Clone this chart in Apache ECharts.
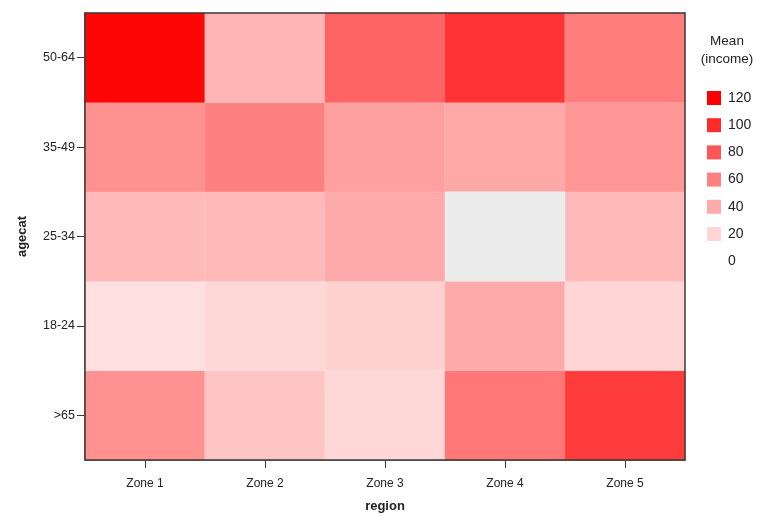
<!DOCTYPE html>
<html>
<head>
<meta charset="utf-8">
<script src="https://cdn.jsdelivr.net/npm/echarts@6/dist/echarts.min.js"></script>
<style>
  html,body{margin:0;padding:0;background:#fff;}
  #main{width:770px;height:516px;}
</style>
</head>
<body>
<div id="main"></div>
<script>
// 数据
var regions = ['Zone 1', 'Zone 2', 'Zone 3', 'Zone 4', 'Zone 5'];
var agecats = ['>65', '18-24', '25-34', '35-49', '50-64'];
// mean income per agecat row (same order as agecats), one value per region
var row65   = [52, 28, 19, 64, 92];
var row1824 = [15, 19, 21, 40, 20];
var row2534 = [33, 33, 40, null, 33];
var row3549 = [52, 60, 45, 41, 49];
var row5064 = [117, 35, 73, 96, 61];
var legendVals = [120, 100, 80, 60, 40, 20, 0];

var rows = [row65, row1824, row2534, row3549, row5064];
var cells = [], empty = [];
rows.forEach(function(r, yi){
  r.forEach(function(v, xi){
    if (v === null) empty.push([xi, yi, 0]);
    else cells.push([xi, yi, v]);
  });
});

var maxV = 120;
function shade(v){
  var g = Math.round(255 * (1 - v / maxV));
  return 'rgb(255,' + g + ',' + g + ')';
}
var pieces = legendVals.map(function(v){
  return {value: v, label: String(v), color: v === 0 ? '#ffffff' : shade(v)};
});

var myChart = echarts.init(document.getElementById('main'));
var font = 'Liberation Sans, Arial, sans-serif';
var option = {
  animation: false,
  backgroundColor: '#fff',
  grid: {
    left: 85, right: 85, top: 13, bottom: 56,
    outerBoundsMode: 'none',
    show: true, borderColor: '#3a3a3a', borderWidth: 1.5,
    backgroundColor: 'transparent', z: 10
  },
  xAxis: {
    type: 'category',
    data: regions,
    name: 'region',
    nameLocation: 'middle',
    nameGap: 40,
    nameTextStyle: {fontFamily: font, fontSize: 13, fontWeight: 'bold', color: '#222'},
    axisLine: {lineStyle: {color: '#3a3a3a', width: 1.5}},
    axisTick: {show: true, alignWithLabel: true, length: 8, lineStyle: {color: '#3a3a3a'}},
    axisLabel: {fontFamily: font, fontSize: 12, color: '#222', margin: 18},
    splitLine: {show: false}
  },
  yAxis: {
    type: 'category',
    data: agecats,
    name: 'agecat',
    nameLocation: 'middle',
    nameGap: 56,
    nameTextStyle: {fontFamily: font, fontSize: 13, fontWeight: 'bold', color: '#222'},
    axisLine: {lineStyle: {color: '#3a3a3a', width: 1.5}},
    axisTick: {show: true, alignWithLabel: true, length: 8, lineStyle: {color: '#3a3a3a'}},
    axisLabel: {fontFamily: font, fontSize: 12.5, color: '#222', margin: 10},
    splitLine: {show: false}
  },
  visualMap: [
    {
      type: 'continuous',
      show: false,
      seriesIndex: 0,
      min: 0, max: maxV,
      inRange: {color: ['#ffffff', '#ff0000']}
    },
    {
      type: 'piecewise',
      seriesIndex: 2,
      left: 692, top: 76,
      orient: 'vertical',
      align: 'left',
      itemSymbol: 'rect',
      itemWidth: 14, itemHeight: 14, itemGap: 13.2,
      textGap: 7,
      hoverLink: false,
      selectedMode: false,
      pieces: pieces,
      textStyle: {fontFamily: font, fontSize: 14, color: '#222'}
    }
  ],
  graphic: [{
    type: 'text',
    x: 727, y: 32,
    style: {
      text: 'Mean\n(income)',
      fontFamily: font, fontSize: 13.5, fill: '#222',
      align: 'center', lineHeight: 18
    }
  }],
  series: [
    {
      type: 'heatmap',
      data: cells,
      itemStyle: {borderColor: 'rgba(255,255,255,0.25)', borderWidth: 0.5}
    },
    {
      type: 'heatmap',
      data: empty,
      itemStyle: {color: '#ececec'}
    },
    {
      type: 'heatmap',
      data: []
    }
  ]
};
myChart.setOption(option);
</script>
</body>
</html>
